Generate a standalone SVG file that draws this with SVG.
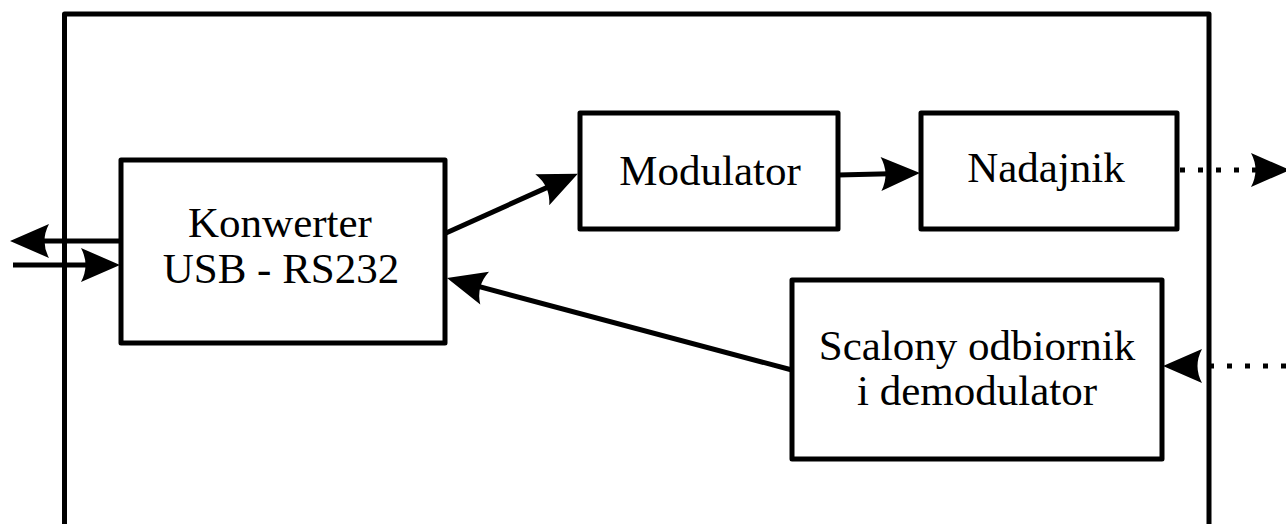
<svg xmlns="http://www.w3.org/2000/svg" width="1286" height="524" viewBox="0 0 1286 524">
  <defs>
    <style>
      .frame { fill: none; stroke: #000; stroke-width: 5; stroke-linejoin: round; }
      .box { fill: #fff; stroke: #000; stroke-width: 5; stroke-linejoin: round; }
      .lbl { font-family: "Liberation Serif", "DejaVu Serif", serif; font-size: 43px; fill: #000; text-anchor: middle; }
      .wire { fill: none; stroke: #000; stroke-width: 5; }
      .dots { fill: none; stroke: #000; stroke-width: 5; stroke-dasharray: 5 13; }
    </style>
    <!-- arrowhead: tip sits 20px beyond the end of the line -->
    <marker id="head" markerUnits="userSpaceOnUse" orient="auto" refX="0" refY="0"
            markerWidth="80" markerHeight="80" viewBox="-40 -40 80 80" overflow="visible">
      <path d="M20,0 L-19,-17 Q-10,0 -19,17 Z" fill="#000"/>
    </marker>
  </defs>

  <rect width="1286" height="524" fill="#fff"/>

  <!-- enclosing device outline, open at the bottom -->
  <path class="frame" d="M64.5,530 V14 H1209 V530"/>

  <g id="konwerter">
    <rect class="box" x="121" y="160" width="324" height="183"/>
    <text class="lbl" x="280" y="237">Konwerter</text>
    <text class="lbl" x="281" y="283">USB - RS232</text>
  </g>

  <g id="modulator">
    <rect class="box" x="580" y="113" width="258" height="116"/>
    <text class="lbl" x="710" y="185">Modulator</text>
  </g>

  <g id="nadajnik">
    <rect class="box" x="921" y="113" width="256" height="116"/>
    <text class="lbl" x="1046" y="182">Nadajnik</text>
  </g>

  <g id="odbiornik">
    <rect class="box" x="792" y="280" width="370" height="179"/>
    <text class="lbl" x="977" y="360">Scalony odbiornik</text>
    <text class="lbl" x="977" y="405">i demodulator</text>
  </g>

  <g id="connectors">
    <!-- USB side: out and in -->
    <line class="wire" x1="121" y1="241" x2="30" y2="241" marker-end="url(#head)"/>
    <line class="wire" x1="13" y1="265" x2="100" y2="265" marker-end="url(#head)"/>
    <!-- converter to modulator -->
    <line class="wire" x1="446" y1="233" x2="559.6" y2="181.9" marker-end="url(#head)"/>
    <!-- modulator to transmitter -->
    <line class="wire" x1="838" y1="175" x2="900" y2="173.5" marker-end="url(#head)"/>
    <!-- receiver back to converter -->
    <line class="wire" x1="792" y1="370" x2="466.3" y2="283.2" marker-end="url(#head)"/>
    <!-- radio link out -->
    <line class="dots" x1="1180" y1="170" x2="1262" y2="170"/>
    <line class="wire" x1="1262" y1="170" x2="1270" y2="170" marker-end="url(#head)" stroke-opacity="0"/>
    <!-- radio link in -->
    <line class="dots" x1="1286" y1="366" x2="1180" y2="366"/>
    <line class="wire" x1="1193" y1="366" x2="1183" y2="366" marker-end="url(#head)" stroke-opacity="0"/>
  </g>
</svg>
